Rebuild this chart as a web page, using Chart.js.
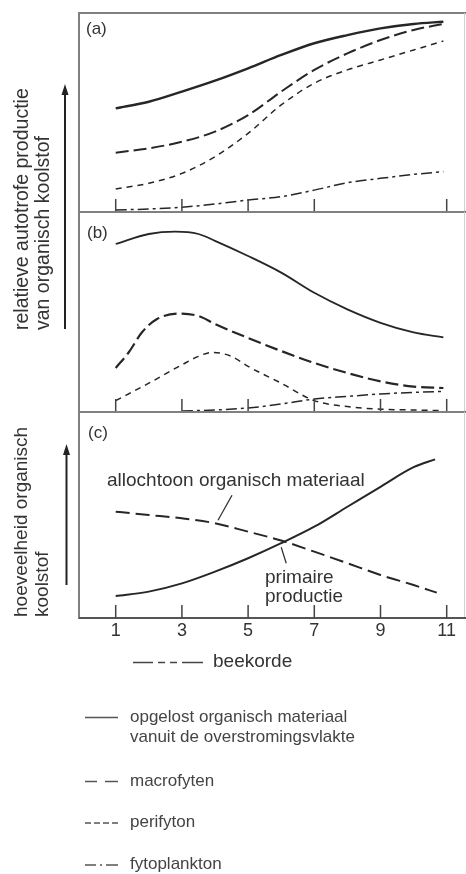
<!DOCTYPE html>
<html><head><meta charset="utf-8">
<script src="https://cdn.jsdelivr.net/npm/chart.js@4.4.1/dist/chart.umd.min.js"></script>
<style>
html,body{margin:0;padding:0;background:#fff;}
#wrap{position:relative;width:466px;height:874px;overflow:hidden;font-family:"Liberation Sans",Arial,sans-serif;color:#333;}
canvas{position:absolute;left:0;top:0;}
.t{position:absolute;white-space:nowrap;line-height:1;}
.rot{position:absolute;white-space:nowrap;transform:rotate(-90deg);transform-origin:0 0;line-height:21px;}
</style></head>
<body><div id="wrap">
<canvas id="ca" width="466" height="874"></canvas>
<canvas id="cb" width="466" height="874"></canvas>
<canvas id="cc" width="466" height="874"></canvas>

<div class="t" style="left:86px;top:20px;font-size:17px;">(a)</div>
<div class="t" style="left:87px;top:224px;font-size:17px;">(b)</div>
<div class="t" style="left:88px;top:424px;font-size:17px;">(c)</div>

<div class="rot" style="left:11px;top:330px;font-size:19.5px;">relatieve autotrofe productie<br>van organisch koolstof</div>
<div class="rot" style="left:9.5px;top:617px;font-size:19px;">hoeveelheid organisch<br>koolstof</div>

<div class="t" style="left:107px;top:470px;font-size:19px;">allochtoon organisch materiaal</div>
<div class="t" style="left:265px;top:567px;font-size:19px;line-height:19px;">primaire<br>productie</div>
<div class="t" style="left:213px;top:651px;font-size:19px;">beekorde</div>

<div class="t" style="left:130px;top:707px;font-size:17px;line-height:20px;color:#444;">opgelost organisch materiaal<br>vanuit de overstromingsvlakte</div>
<div class="t" style="left:130px;top:772px;font-size:17px;color:#444;">macrofyten</div>
<div class="t" style="left:130px;top:813px;font-size:17px;color:#444;">perifyton</div>
<div class="t" style="left:130px;top:855px;font-size:17px;color:#444;">fytoplankton</div>
</div>
<script>
// ---- data (beekorde on x, relative amount 0-100 on y) ----
const xTicks = [1, 3, 5, 7, 9, 11];
const ticksPanelA = [1, 3, 5, 7, 11];
const ticksPanelB = [1, 3, 5, 7, 9, 11];

const aX = [1, 2, 3, 4, 5, 6, 7, 8, 9, 10, 10.9];
const aOpgelost     = [52.1, 55.4, 60.5, 66, 72.2, 78.9, 84.8, 88.9, 92.3, 94.5, 95.6];
const aMacrofyten   = [29.8, 32, 35.3, 40.4, 48.7, 60.5, 71.4, 79.7, 86.4, 91.5, 94.5];
const aPerifyton    = [11.6, 14.4, 19.4, 27.8, 39.5, 53.8, 64.7, 71.4, 76.4, 81.4, 85.9];
const aFytoplankton = [1, 1.5, 2.4, 4, 6, 7.7, 11, 14.7, 16.9, 18.9, 20.3];

const bOpgelostX = [1, 2, 2.8, 3.5, 4, 5, 6, 7, 8, 9, 10, 10.9];
const bOpgelost  = [84, 89, 90.2, 89, 85.6, 78, 69.7, 59.6, 51.3, 44.6, 39.8, 37.3];
const bMacrofytenX = [1, 1.4, 1.8, 2.25, 2.9, 3.5, 4, 5, 6, 7, 8, 9, 10, 10.9];
const bMacrofyten  = [22, 30, 40, 46.5, 49.2, 48, 44, 37, 30.5, 24.5, 19.5, 15.3, 12.7, 12];
const bPerifytonX = [1, 2, 3, 3.5, 3.9, 4.5, 5, 6, 7, 8, 9, 10, 10.9];
const bPerifyton  = [5.7, 14.4, 23.6, 27.8, 29.8, 27.8, 22.8, 14.4, 5.7, 2.7, 1.4, 1, 0.7];
const bFytoplanktonX = [3, 4, 5, 6, 7, 8, 9, 10, 10.9];
const bFytoplankton  = [0.5, 1, 2, 4, 6.5, 7.8, 9, 9.8, 10.3];

const cPrimairX = [1, 2, 3, 4, 5, 6, 7, 8, 9, 10, 10.65];
const cPrimair  = [10.7, 12.8, 16.8, 22.5, 29, 36.3, 44.3, 54, 63.7, 73.2, 77];
const cAllochtoonX = [1, 2, 3, 4, 5, 6, 7, 8, 9, 10, 10.7];
const cAllochtoon  = [51.6, 50, 48.4, 46, 41.9, 37.6, 32.2, 26.6, 20.9, 16, 12.3];

// ---- styling ----
const INK = '#262626';
const X_MIN = -0.109, X_MAX = 11.553;
const pts = (xs, ys) => xs.map((x, i) => ({ x: x, y: ys[i] }));
const ds = (data, width, dash) => ({
  data: data, borderColor: INK, borderWidth: width, borderDash: dash,
  pointRadius: 0, fill: false, cubicInterpolationMode: 'monotone', borderCapStyle: 'butt'
});
const DASH_MACRO = [13, 5], DASH_PERI = [6, 5], DASH_FYTO = [11, 4, 3, 4];

function framePlugin(tickVals, last) {
  return {
    id: 'frame',
    afterDatasetsDraw(chart) {
      const ctx = chart.ctx, a = chart.chartArea, x = chart.scales.x;
      ctx.save();
      ctx.strokeStyle = '#808080'; ctx.lineWidth = 2;
      ctx.beginPath();
      ctx.moveTo(a.left, a.top); ctx.lineTo(466, a.top);
      ctx.moveTo(a.left, a.top - 1); ctx.lineTo(a.left, a.bottom + 1);
      ctx.stroke();
      ctx.strokeStyle = '#d0d0d0'; ctx.lineWidth = 1;
      ctx.beginPath(); ctx.moveTo(a.right - 0.5, a.top); ctx.lineTo(a.right - 0.5, a.bottom); ctx.stroke();
      if (last) {
        ctx.strokeStyle = '#555'; ctx.lineWidth = 2;
        ctx.beginPath(); ctx.moveTo(a.left, a.bottom); ctx.lineTo(466, a.bottom); ctx.stroke();
      }
      ctx.strokeStyle = '#444'; ctx.lineWidth = 1.5;
      tickVals.forEach(v => {
        const px = x.getPixelForValue(v);
        ctx.beginPath(); ctx.moveTo(px, a.bottom); ctx.lineTo(px, a.bottom - 13); ctx.stroke();
      });
      ctx.restore();
    }
  };
}

function baseOptions(padTop, padBottom, showX) {
  const xOpts = {
    type: 'linear', min: X_MIN, max: X_MAX, display: showX,
    grid: { display: false, drawTicks: false }, border: { display: false },
    afterBuildTicks: s => { s.ticks = xTicks.map(v => ({ value: v })); },
    ticks: { autoSkip: false, maxRotation: 0, padding: 2, color: '#333',
             font: { family: '"Liberation Sans", Arial, sans-serif', size: 18 } }
  };
  if (showX) xOpts.afterFit = s => { s.height = 24; };
  return {
    responsive: false, animation: false, devicePixelRatio: 1, events: [],
    layout: { padding: { left: 79, right: 1, top: padTop, bottom: padBottom } },
    plugins: { legend: { display: false }, tooltip: { enabled: false } },
    scales: {
      x: xOpts,
      y: { type: 'linear', min: 0, max: 100, display: false }
    }
  };
}

new Chart(document.getElementById('ca'), {
  type: 'line',
  data: { datasets: [
    ds(pts(aX, aOpgelost), 2.4, []),
    ds(pts(aX, aMacrofyten), 2, DASH_MACRO),
    ds(pts(aX, aPerifyton), 1.5, DASH_PERI),
    ds(pts(aX, aFytoplankton), 1.5, DASH_FYTO)
  ] },
  options: baseOptions(13, 874 - 212, false),
  plugins: [framePlugin(ticksPanelA, false)]
});

new Chart(document.getElementById('cb'), {
  type: 'line',
  data: { datasets: [
    ds(pts(bOpgelostX, bOpgelost), 1.8, []),
    ds(pts(bMacrofytenX, bMacrofyten), 2.2, DASH_MACRO),
    ds(pts(bPerifytonX, bPerifyton), 1.5, DASH_PERI),
    ds(pts(bFytoplanktonX, bFytoplankton), 1.5, DASH_FYTO)
  ] },
  options: baseOptions(212, 874 - 412, false),
  plugins: [framePlugin(ticksPanelB, false)]
});

const decor = {
  id: 'decor',
  afterDraw(chart) {
    const ctx = chart.ctx;
    ctx.save();
    // leader lines for annotations
    ctx.strokeStyle = '#333'; ctx.lineWidth = 1.3;
    const pA = chart.getDatasetMeta(1).data[3];
    ctx.beginPath(); ctx.moveTo(pA.x + 3, pA.y - 3); ctx.lineTo(pA.x + 17, pA.y - 28); ctx.stroke();
    const pP = chart.getDatasetMeta(0).data[5];
    ctx.beginPath(); ctx.moveTo(pP.x, pP.y + 4); ctx.lineTo(pP.x + 5, pP.y + 20); ctx.stroke();
    // axis arrows
    ctx.strokeStyle = '#222'; ctx.fillStyle = '#222'; ctx.lineWidth = 2;
    [[65, 329, 84], [66.5, 585, 444]].forEach(([ax, y0, y1]) => {
      ctx.beginPath(); ctx.moveTo(ax, y0); ctx.lineTo(ax, y1 + 8); ctx.stroke();
      ctx.beginPath(); ctx.moveTo(ax, y1); ctx.lineTo(ax - 3.5, y1 + 11); ctx.lineTo(ax + 3.5, y1 + 11); ctx.closePath(); ctx.fill();
    });
    // beekorde symbol
    ctx.strokeStyle = '#444'; ctx.lineWidth = 1.5;
    const seg = (x0, x1, y) => { ctx.beginPath(); ctx.moveTo(x0, y); ctx.lineTo(x1, y); ctx.stroke(); };
    seg(133, 153, 662.5); seg(158, 165, 662.5); seg(170, 177, 662.5); seg(182, 203, 662.5);
    // legend samples
    ctx.strokeStyle = '#555';
    seg(85, 118, 717.5);
    seg(85, 97, 781.5); seg(105, 118, 781.5);
    seg(85, 91, 823); seg(94, 100, 823); seg(103, 109, 823); seg(112, 118, 823);
    seg(85, 96, 865); seg(100, 102, 865); seg(106, 118, 865);
    ctx.restore();
  }
};

new Chart(document.getElementById('cc'), {
  type: 'line',
  data: { datasets: [
    ds(pts(cPrimairX, cPrimair), 2, []),
    ds(pts(cAllochtoonX, cAllochtoon), 2, [14, 6])
  ] },
  options: baseOptions(412, 874 - 618 - 24, true),
  plugins: [framePlugin(xTicks, true), decor]
});
</script>
</body></html>
